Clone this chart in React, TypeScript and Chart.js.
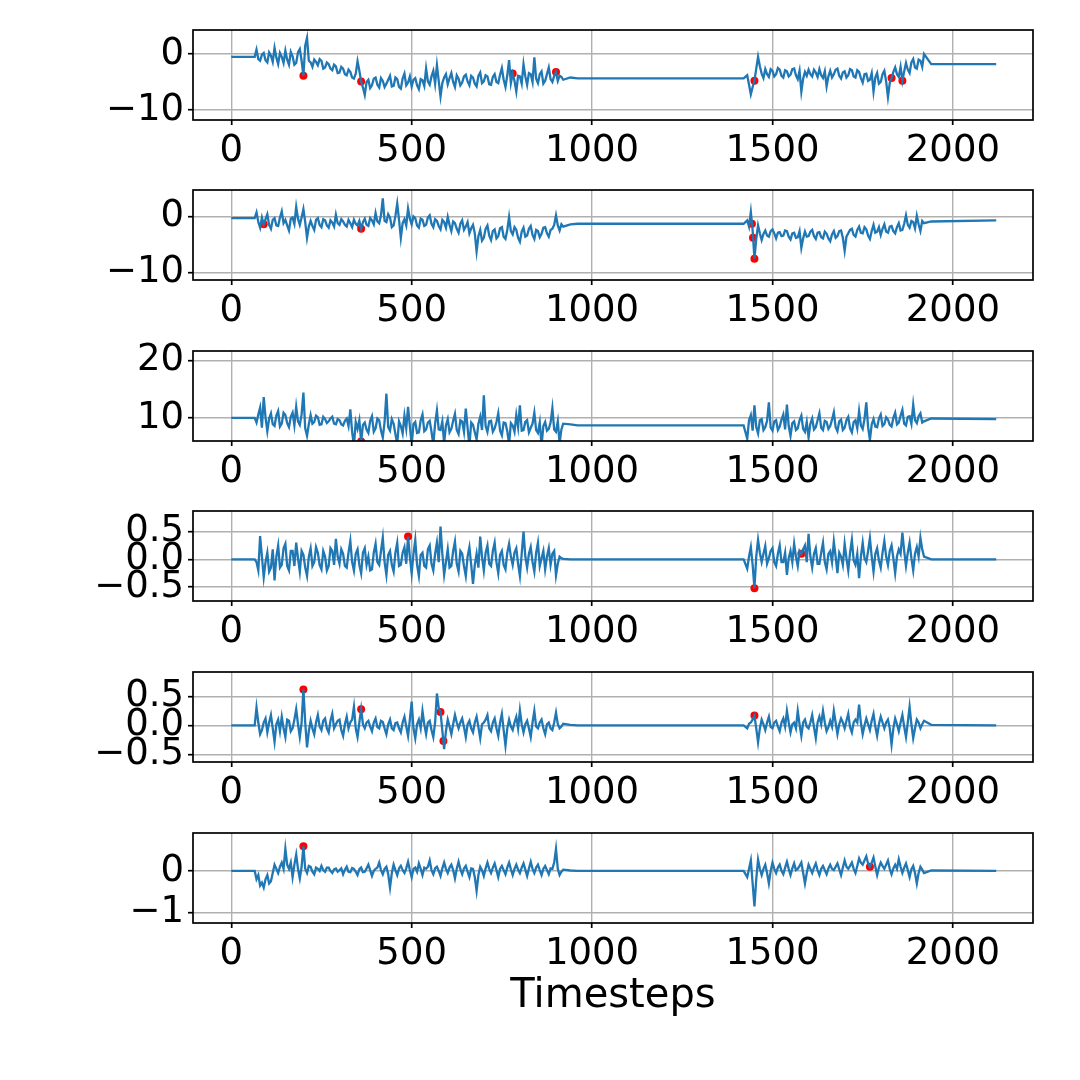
import React, { useEffect, useRef } from "react";
import { Chart, registerables } from "chart.js";

Chart.register(...registerables);

const TIMESTEPS = [
  0, 65,
  70, 75, 80, 85, 90, 95, 100, 105, 110, 115, 120, 125, 130, 135, 140, 145, 150, 155, 160, 165,
  170, 175, 180, 185, 190, 195, 200, 205, 210, 215, 220, 225, 230, 235, 240, 245, 250, 255, 260, 265,
  270, 275, 280, 285, 290, 295, 300, 305, 310, 315, 320, 325, 330, 335, 340, 345, 350, 355, 360, 365,
  370, 375, 380, 385, 390, 395, 400, 405, 410, 415, 420, 425, 430, 435, 440, 445, 450, 455, 460, 465,
  470, 475, 480, 485, 490, 495, 500, 505, 510, 515, 520, 525, 530, 535, 540, 545, 550, 555, 560, 565,
  570, 575, 580, 585, 590, 595, 600, 605, 610, 615, 620, 625, 630, 635, 640, 645, 650, 655, 660, 665,
  670, 675, 680, 685, 690, 695, 700, 705, 710, 715, 720, 725, 730, 735, 740, 745, 750, 755, 760, 765,
  770, 775, 780, 785, 790, 795, 800, 805, 810, 815, 820, 825, 830, 835, 840, 845, 850, 855, 860, 865,
  870, 875, 880, 885, 890, 895, 900, 905, 910, 915, 920,
  940, 960,
  1420,
  1430, 1435, 1440, 1445, 1450, 1455, 1460, 1465, 1470, 1475, 1480, 1485, 1490, 1495, 1500, 1505, 1510, 1515, 1520, 1525,
  1530, 1535, 1540, 1545, 1550, 1555, 1560, 1565, 1570, 1575, 1580, 1585, 1590, 1595, 1600, 1605, 1610, 1615, 1620, 1625,
  1630, 1635, 1640, 1645, 1650, 1655, 1660, 1665, 1670, 1675, 1680, 1685, 1690, 1695, 1700, 1705, 1710, 1715, 1720, 1725,
  1730, 1735, 1740, 1745, 1750, 1755, 1760, 1765, 1770, 1775, 1780, 1785, 1790, 1795, 1800, 1805, 1810, 1815, 1820, 1825,
  1830, 1835, 1840, 1845, 1850, 1855, 1860, 1865, 1870, 1875, 1880, 1885, 1890, 1895, 1900, 1905, 1910, 1915, 1920,
  1940, 2120,
];

const SERIES_1 = [
  -0.5, -0.5,
  0.8, -0.9, -1.2, -0.1, 0.2, -1.1, -1.5, 0.3, -0.3, -1.4, 1.1, -0.6, -1.8, 0.2, -0.5, -1.6, 0.6, -1.0, -1.9, 0.4,
  -0.4, -1.9, -1.6, 0.3, 0.9, -1.2, -3.9, 1.5, 2.9, -1.2, -1.5, -2.3, -1.0, -1.4, -2.0, -0.9, -1.2, -2.6, -2.4, -1.5,
  -1.8, -2.6, -2.9, -1.9, -2.2, -3.4, -3.3, -2.3, -2.6, -3.6, -3.8, -2.8, -3.2, -4.2, -4.4, -3.5, -1.3, -3.0, -4.9, -6.0,
  -7.3, -5.0, -4.6, -6.1, -5.6, -4.4, -4.2, -5.5, -6.0, -4.3, -4.8, -5.9, -5.3, -4.6, -3.9, -5.8, -5.7, -4.2, -4.5, -5.9,
  -6.2, -4.4, -3.5, -5.6, -5.1, -4.0, -5.8, -4.6, -4.3, -5.6, -6.3, -4.5, -4.7, -5.7, -2.6, -4.9, -5.5, -4.0, -3.0, -5.3,
  -2.0, -4.8, -7.6, -5.2, -4.2, -3.6, -5.4, -4.3, -3.4, -5.0, -5.9, -3.8, -4.4, -5.6, -5.1, -4.0, -3.7, -4.9, -5.6, -3.9,
  -4.2, -5.3, -5.8, -3.9, -3.3, -5.2, -4.9, -3.8, -4.0, -5.4, -5.5, -4.1, -3.6, -5.0, -5.2, -3.7, -2.5, -4.6, -5.9, -3.8,
  -1.1, -5.2, -3.5, -4.8, -6.7, -3.9, -4.0, -5.3, -1.8, -4.0, -5.5, -3.4, -3.6, -5.0, -0.6, -4.4, -5.2, -3.6, -3.1, -5.3,
  -4.8, -3.6, -2.4, -4.5, -5.0, -3.9, -3.2, -4.8, -3.9, -4.1, -4.6,
  -4.2, -4.35,
  -4.35,
  -3.8, -5.5, -7.2, -5.9, -4.8, -2.6, -0.5, -2.2, -3.5, -4.3, -2.7, -3.6, -4.1, -2.7, -3.0, -4.0, -3.6, -2.5, -2.8, -3.9,
  -4.2, -2.9, -3.1, -4.0, -3.7, -2.7, -2.6, -3.8, -4.5, -3.0, -6.7, -4.4, -3.2, -3.9, -2.8, -3.6, -4.0, -2.8, -3.3, -4.1,
  -2.7, -3.8, -4.3, -3.1, -5.8, -4.0, -3.0, -4.2, -3.6, -2.8, -2.6, -3.9, -4.4, -3.3, -3.1, -4.2, -3.8, -2.7, -2.9, -4.0,
  -4.2, -2.9, -3.2, -4.3, -5.1, -3.6, -3.5, -4.8, -4.6, -3.4, -6.7, -4.2, -3.4, -5.3, -5.0, -3.6, -3.0, -4.9, -7.7, -5.2,
  -4.3, -3.2, -2.4, -3.6, -4.1, -2.3, -4.8, -3.1, -1.6, -2.8, -3.4, -1.5, -0.9, -2.4, -2.6, -1.0, -1.2, -2.3, 0.0,
  -1.8, -1.8,
];

const SERIES_2 = [
  -0.3, -0.3,
  0.7, -1.0, -2.0, -0.2, -1.4, -0.5, 0.4, -1.5, -2.2, -0.6, -0.3, -1.6, -1.7, -0.2, 0.9, -1.2, -0.6, -1.6, -2.5, -0.4,
  -0.2, -1.3, 1.7, -0.4, -1.5, -0.2, 1.3, -1.0, -3.8, -1.8, -0.8, -1.7, -2.4, -0.6, -0.3, -1.5, -1.9, -0.5, -0.7, -1.6,
  -2.0, -0.7, -1.1, -1.8, 0.3, -1.2, -1.5, -0.5, -0.9, -1.5, -1.8, -0.6, -1.2, -1.9, -0.6, -1.3, -1.6, -0.8, -2.2, -1.0,
  -0.4, -1.5, -1.7, -0.3, -0.7, -1.4, 0.6, -0.9, -1.2, 0.2, 3.2, -0.8, -1.0, 0.4, -0.2, -1.9, -1.6, 0.1, 2.3, -0.6,
  -3.8, -1.2, -0.5, -1.6, 1.4, -0.4, -1.4, 0.0, -0.3, -1.6, -2.0, -0.4, -0.6, -1.7, -1.5, -0.2, 0.2, -1.3, -1.9, -0.5,
  -0.8, -1.7, -2.3, -0.6, -1.0, -2.0, -0.1, -1.5, -2.6, -0.9, -1.2, -2.2, -2.9, -1.3, -0.7, -2.4, -1.8, -1.0, -3.0, -2.1,
  -1.5, -3.0, -6.2, -3.5, -2.4, -4.3, -3.8, -2.2, -1.6, -3.4, -4.2, -2.6, -2.3, -3.9, -3.5, -2.1, -1.9, -3.6, -4.0, -2.4,
  -0.1, -2.6, -3.2, -1.9, -2.4, -3.8, -4.5, -2.7, -2.0, -3.6, -3.4, -2.2, -1.7, -3.3, -4.0, -2.4, -2.6, -3.7, -3.1, -2.0,
  -1.9, -3.0, -3.6, -2.4, -2.2, -1.5, 0.2, -1.6, -2.5, -1.4, -1.8,
  -1.4, -1.3,
  -1.3,
  -0.7, -1.8, 0.8, -2.5, -7.5, -4.0, -1.6, -3.0, -4.2, -3.1, -2.5, -3.4, -3.6, -2.6, -2.3, -3.0, -3.9, -2.9, -2.8, -3.5,
  -3.4, -2.5, -2.6, -3.6, -4.1, -3.0, -2.9, -3.8, -3.7, -2.6, -5.6, -3.9, -2.7, -3.6, -3.5, -2.7, -2.4, -3.5, -4.0, -2.9,
  -2.8, -3.7, -3.9, -2.7, -3.1, -3.9, -4.4, -3.2, -2.6, -3.8, -3.5, -2.6, -2.5, -3.8, -6.1, -3.6, -3.0, -2.4, -2.2, -3.3,
  -3.6, -2.4, -1.8, -2.9, -3.0, -1.9, -2.3, -3.4, -4.0, -2.6, -1.5, -2.9, -2.7, -1.9, -3.3, -2.2, -1.4, -2.7, -2.9, -1.8,
  -1.7, -2.6, -3.0, -1.9, -1.2, -2.5, -2.4, -1.3, 0.2, -1.5, -2.0, -0.8, -1.0, -2.1, 0.1, -1.4, -2.6, -0.8, -1.2,
  -0.9, -0.7,
];

const SERIES_3 = [
  10.0, 10.0,
  9.2, 10.6, 11.8, 8.3, 13.6, 10.1, 7.7, 9.9, 10.8, 8.9, 8.6, 10.4, 11.2, 8.5, 9.0, 10.9, 10.5, 9.1, 8.4, 10.2,
  10.9, 8.7, 11.9, 9.4, 8.8, 10.6, 14.4, 8.2, 6.9, 8.9, 10.5, 9.0, 9.3, 10.4, 10.1, 8.8, 8.9, 10.2, 9.8, 9.1,
  9.4, 9.9, 10.2, 9.0, 8.9, 9.8, 9.6, 8.9, 8.7, 9.5, 9.9, 8.6, 11.5, 7.6, 5.2, 9.3, 8.1, 9.6, 5.9, 8.8,
  9.2, 8.0, 7.4, 9.5, 10.3, 7.6, 8.2, 9.9, 9.6, 7.8, 6.6, 9.3, 14.2, 8.4, 7.8, 9.8, 9.0, 7.2, 5.5, 9.4,
  8.6, 7.3, 10.4, 8.2, 11.9, 8.6, 5.3, 8.9, 9.3, 7.4, 7.5, 9.6, 10.6, 7.7, 8.0, 9.2, 9.5, 7.6, 5.4, 9.0,
  11.3, 8.0, 7.9, 9.4, 5.6, 8.7, 9.8, 7.5, 8.1, 9.5, 10.7, 7.9, 7.2, 9.6, 9.4, 7.6, 11.6, 8.3, 5.1, 9.2,
  8.8, 7.5, 6.3, 9.0, 10.2, 7.9, 13.9, 8.6, 7.6, 9.4, 9.5, 7.6, 8.2, 9.3, 10.8, 7.8, 7.0, 9.2, 9.1, 7.7,
  5.5, 9.1, 8.7, 7.6, 10.5, 8.4, 12.2, 7.8, 7.9, 9.3, 9.6, 7.5, 8.3, 9.0, 10.9, 7.9, 7.4, 9.2, 5.2, 8.6,
  9.3, 7.8, 8.1, 9.2, 11.7, 8.0, 7.6, 9.4, 5.6, 8.0, 9.0,
  8.9, 8.7,
  8.7,
  6.4, 9.6, 10.5, 7.8, 12.2, 8.4, 7.3, 9.6, 9.8, 7.9, 8.4, 9.5, 12.7, 8.3, 7.8, 9.4, 9.6, 7.9, 8.5, 9.7,
  10.6, 8.0, 12.3, 8.6, 6.9, 9.1, 9.4, 7.9, 8.2, 9.6, 10.4, 8.1, 7.6, 9.3, 6.6, 9.0, 9.9, 8.0, 8.4, 9.6,
  10.8, 8.3, 7.9, 9.5, 9.3, 8.1, 8.6, 9.7, 11.0, 8.4, 7.7, 9.4, 9.7, 7.9, 8.3, 9.6, 10.2, 8.2, 7.5, 9.3,
  9.6, 8.2, 11.2, 8.7, 8.1, 9.8, 12.7, 8.4, 6.2, 8.9, 9.8, 8.5, 8.4, 9.9, 10.6, 8.6, 8.9, 10.1, 9.7, 8.8,
  8.5, 10.0, 10.9, 8.9, 9.2, 10.4, 11.4, 9.0, 8.7, 10.2, 10.3, 9.0, 12.3, 9.6, 9.1, 10.3, 10.8, 9.2, 9.4,
  9.9, 9.8,
];

const SERIES_4 = [
  0, 0,
  -0.05, -0.2, 0.42, 0.05, -0.32, -0.05, 0.12, -0.22, -0.15, 0.18, -0.38, 0.05, 0.25, -0.15, -0.1, 0.2, 0.28, -0.12, -0.2, 0.15,
  0.15, -0.12, 0.3, 0.02, -0.22, 0.15, 0.08, -0.15, -0.3, 0.05, 0.2, -0.12, -0.05, 0.22, 0.12, -0.1, -0.18, 0.15, 0.05, -0.2,
  -0.12, 0.2, 0.15, -0.1, 0.37, 0.05, -0.08, 0.18, 0.1, -0.12, -0.15, 0.12, 0.33, -0.05, -0.2, 0.1, 0.18, -0.1, -0.25, 0.12,
  0.2, -0.1, 0.05, -0.2, -0.18, 0.12, 0.28, -0.05, -0.1, 0.15, 0.39, -0.05, -0.28, 0.08, 0.15, -0.1, -0.22, 0.12, 0.3, -0.12,
  -0.1, 0.12, 0.22, -0.08, 0.41, 0.05, -0.25, 0.1, 0.35, -0.1, -0.3, 0.08, 0.12, -0.12, -0.15, 0.18, 0.25, -0.08, -0.2, 0.1,
  0.3, -0.05, 0.59, 0.1, -0.28, -0.05, 0.18, -0.15, -0.12, 0.15, 0.32, -0.08, -0.22, 0.15, 0.1, -0.12, -0.3, 0.05, 0.22, -0.1,
  -0.44, -0.1, 0.1, -0.15, 0.41, 0.05, -0.2, 0.12, 0.25, -0.08, -0.12, 0.15, 0.3, -0.05, -0.25, 0.08, 0.15, -0.1, -0.18, 0.12,
  0.28, 0.05, -0.1, 0.12, 0.2, -0.08, -0.3, 0.1, 0.5, 0.05, -0.15, 0.1, 0.22, -0.05, -0.22, 0.12, 0.3, -0.12, 0.02, 0.15,
  -0.18, 0.05, 0.2, -0.1, 0.1, 0.15, -0.29, -0.08, 0.05, 0.02, 0.01,
  0, 0,
  0,
  -0.17, 0.05, 0.22, -0.1, -0.52, 0.05, 0.35, 0.12, -0.05, 0.1, 0.24, -0.08, 0.02, 0.15, 0.2, -0.05, -0.12, 0.1, 0.25, -0.05,
  -0.05, 0.12, -0.28, 0.02, 0.15, -0.05, 0.28, 0.05, -0.12, 0.15, 0.1, 0.18, 0.25, -0.05, 0.46, 0.05, -0.15, 0.1, 0.2, -0.08,
  -0.08, 0.12, 0.3, -0.05, -0.18, 0.1, 0.15, -0.05, 0.32, 0.05, -0.25, 0.12, 0.05, -0.1, 0.28, 0.02, -0.2, 0.12, 0.35, -0.02,
  -0.1, 0.1, -0.34, 0.05, 0.3, 0.02, -0.05, 0.15, 0.38, 0.05, -0.22, 0.1, 0.2, -0.02, -0.15, 0.12, 0.33, 0.05, -0.1, 0.15,
  0.25, 0.02, -0.25, 0.05, 0.18, 0.1, 0.48, 0.15, -0.12, 0.12, 0.3, 0.02, -0.2, 0.1, 0.22, 0.05, 0.39, 0.18, 0.05,
  0, 0,
];

const SERIES_5 = [
  0, 0,
  0.31, 0.05, -0.15, -0.08, 0.05, 0.12, -0.12, 0.05, 0.18, -0.05, -0.28, 0.02, 0.1, -0.1, 0.15, -0.05, -0.2, 0.1, 0.08, -0.1,
  -0.05, 0.1, 0.28, 0.02, -0.2, 0.05, 0.62, 0.05, -0.38, -0.1, 0.08, -0.05, -0.15, 0.05, 0.18, -0.02, -0.08, 0.08, 0.12, -0.05,
  -0.12, 0.08, 0.2, -0.05, 0.02, 0.08, 0.1, -0.08, -0.18, 0.02, 0.15, -0.05, 0.05, 0.1, 0.32, -0.05, -0.2, 0.05, 0.28, 0.02,
  -0.05, 0.05, 0.08, -0.02, -0.1, 0.05, 0.12, -0.03, -0.05, 0.08, 0.06, -0.05, -0.15, 0.02, 0.1, -0.05, -0.08, 0.04, 0.05, -0.05,
  -0.12, 0.05, 0.15, -0.02, -0.18, 0.1, 0.41, -0.05, -0.22, 0.02, 0.1, -0.05, 0.25, 0.02, -0.15, 0.05, 0.08, -0.08, -0.2, 0.05,
  0.55, 0.3, 0.23, -0.09, -0.41, -0.1, 0.1, -0.02, -0.15, 0.02, 0.18, 0.05, -0.05, 0.05, 0.12, -0.03, -0.2, 0.02, 0.08, -0.05,
  -0.12, 0.05, 0.15, -0.03, -0.22, 0.02, 0.05, 0.1, 0.18, -0.05, -0.1, 0.05, 0.12, -0.05, -0.18, 0.05, 0.2, -0.08, -0.35, -0.05,
  0.1, -0.02, -0.08, 0.05, 0.15, -0.05, 0.26, 0.02, -0.12, 0.02, 0.08, -0.05, -0.2, 0.05, 0.25, -0.02, -0.05, 0.05, 0.1, -0.05,
  -0.15, 0.02, 0.05, -0.05, -0.08, 0.05, 0.22, 0.02, -0.05, -0.02, 0.03,
  0.01, 0,
  0,
  -0.05, 0.03, 0.05, 0.1, 0.17, -0.05, -0.29, -0.05, 0.1, 0.02, -0.08, 0.05, 0.15, -0.03, -0.05, 0.05, 0.08, -0.02, -0.1, 0.05,
  0.12, -0.02, 0.25, 0.05, -0.12, 0.02, 0.05, -0.05, 0.25, 0.02, -0.18, 0.05, 0.1, -0.02, -0.05, 0.05, 0.18, -0.03, -0.22, 0.05,
  0.15, 0.02, 0.25, 0.05, -0.1, -0.03, 0.08, -0.02, 0.25, 0.05, -0.15, 0.02, 0.12, 0.05, -0.05, 0.08, 0.2, -0.03, -0.12, 0.05,
  0.1, 0.05, 0.36, 0.05, -0.15, 0.0, 0.12, 0.02, -0.08, 0.08, 0.2, -0.02, -0.18, 0.02, 0.15, 0.05, -0.05, 0.05, 0.1, -0.05,
  -0.33, -0.05, 0.12, 0.02, -0.1, 0.05, 0.18, -0.02, -0.2, 0.05, 0.32, 0.02, -0.22, -0.05, 0.1, 0.05, -0.05, 0.02, 0.08,
  0.01, 0,
];

const SERIES_6 = [
  0, 0,
  -0.2, -0.1, -0.35, -0.28, -0.4, -0.2, -0.1, -0.3, -0.25, -0.05, 0.15, 0.05, -0.05, 0.1, 0.2, 0.05, 0.53, 0.15, 0.05, 0.2,
  -0.15, 0.15, 0.39, 0.05, -0.18, 0.1, 0.59, 0.05, -0.05, 0.12, 0.1, -0.02, -0.08, 0.08, 0.05, 0.0, 0.12, 0.02, -0.02, 0.08,
  0.08, 0.0, -0.05, 0.04, 0.06, -0.02, 0.02, 0.06, -0.08, 0.03, 0.1, -0.02, -0.03, 0.07, 0.05, -0.02, -0.1, 0.04, 0.08, -0.03,
  -0.02, 0.06, 0.15, 0.02, -0.12, 0.0, 0.05, 0.08, 0.2, 0.02, -0.08, 0.05, 0.1, -0.08, -0.4, -0.05, 0.15, 0.02, -0.1, 0.06,
  0.12, 0.02, -0.05, 0.06, 0.22, 0.02, -0.15, 0.05, 0.08, -0.02, 0.18, 0.05, -0.1, 0.08, 0.05, 0.1, 0.25, 0.02, -0.08, 0.06,
  0.1, 0.0, -0.12, 0.06, 0.2, 0.05, -0.05, 0.08, 0.15, 0.02, -0.18, 0.05, 0.22, 0.04, -0.08, 0.06, 0.12, -0.02, -0.15, 0.06,
  0.05, -0.15, -0.48, -0.1, 0.1, 0.02, -0.12, 0.06, 0.2, 0.05, -0.05, 0.08, 0.18, 0.02, -0.15, 0.05, 0.12, 0.02, -0.08, 0.08,
  0.2, 0.04, -0.1, 0.05, 0.15, 0.03, -0.05, 0.08, 0.18, 0.03, -0.12, 0.06, 0.22, 0.05, -0.05, 0.08, 0.15, 0.02, -0.1, 0.05,
  0.12, 0.02, -0.08, 0.06, 0.05, 0.2, 0.53, 0.05, -0.1, -0.02, 0.03,
  0.01, 0,
  0,
  -0.15, 0.05, 0.25, -0.3, -0.85, -0.2, 0.27, 0.05, -0.1, 0.05, 0.15, -0.05, -0.3, 0.0, 0.2, 0.05, -0.05, 0.08, 0.15, 0.0,
  -0.08, 0.08, 0.22, 0.05, -0.1, 0.06, 0.18, 0.02, 0.05, 0.12, 0.2, -0.05, -0.3, -0.05, 0.15, 0.05, -0.05, 0.08, 0.18, 0.02,
  -0.1, 0.05, 0.12, 0.02, -0.08, 0.06, 0.15, 0.05, 0.02, 0.1, 0.18, 0.04, -0.1, 0.08, 0.25, 0.1, 0.05, 0.12, 0.2, 0.05,
  -0.05, 0.12, 0.3, 0.2, 0.15, 0.25, 0.35, 0.18, 0.1, 0.2, 0.32, 0.1, -0.1, 0.08, 0.2, 0.12, 0.05, 0.15, 0.25, 0.05,
  -0.08, 0.06, 0.15, 0.05, 0.28, 0.1, -0.05, 0.08, 0.18, 0.02, -0.15, 0.04, 0.12, -0.05, -0.3, -0.05, 0.1, 0.03, -0.05,
  0.01, 0,
];

// Anomaly markers (red points)
const ANOM_X_1 = [200, 360, 780, 900, 1450, 1830, 1860];
const ANOM_Y_1 = [-3.9, -4.9, -3.5, -3.2, -4.8, -4.3, -4.8];
const ANOM_X_2 = [90, 360, 1443, 1446, 1450];
const ANOM_Y_2 = [-1.4, -2.2, -1.3, -3.8, -7.5];
const ANOM_X_3 = [360];
const ANOM_Y_3 = [5.9];
const ANOM_X_4 = [490, 1450, 1580];
const ANOM_Y_4 = [0.41, -0.52, 0.1];
const ANOM_X_5 = [200, 360, 580, 588, 1450];
const ANOM_Y_5 = [0.62, 0.28, 0.23, -0.27, 0.17];
const ANOM_X_6 = [200, 1770];
const ANOM_Y_6 = [0.59, 0.1];

// Tick labels
const X_TICKS = [0, 500, 1000, 1500, 2000];
const Y_TICKS_1 = [-10, 0];
const Y_TICKS_2 = [-10, 0];
const Y_TICKS_3 = [10, 20];
const Y_TICKS_4 = [-0.5, 0, 0.5];
const Y_TICKS_5 = [-0.5, 0, 0.5];
const Y_TICKS_6 = [-1, 0];

// Axis limits
const X_LIMITS = [-106, 2222];
const Y_LIMITS = [
  [-11.8, 4.3],
  [-11.3, 4.7],
  [6.0, 21.6],
  [-0.75, 0.87],
  [-0.63, 0.92],
  [-1.25, 0.91],
];
const Y_DECIMALS = [0, 0, 0, 1, 1, 0];
const X_TITLE = "Timesteps";

const PANELS = [
  { series: SERIES_1, ax: ANOM_X_1, ay: ANOM_Y_1, ticks: Y_TICKS_1 },
  { series: SERIES_2, ax: ANOM_X_2, ay: ANOM_Y_2, ticks: Y_TICKS_2 },
  { series: SERIES_3, ax: ANOM_X_3, ay: ANOM_Y_3, ticks: Y_TICKS_3 },
  { series: SERIES_4, ax: ANOM_X_4, ay: ANOM_Y_4, ticks: Y_TICKS_4 },
  { series: SERIES_5, ax: ANOM_X_5, ay: ANOM_Y_5, ticks: Y_TICKS_5 },
  { series: SERIES_6, ax: ANOM_X_6, ay: ANOM_Y_6, ticks: Y_TICKS_6 },
];

// Layout
const W = 1080;
const PLOT_TOPS = [30, 190, 351, 511, 672, 833];
const PLOT_H = 90;
const PAD_TOP = 10;
const PLOT_LEFT = 193;
const PLOT_RIGHT = 1033;
const X_AXIS_H = 70;
const X_AXIS_H_LAST = 98;
const TICK_FONT = { family: "DejaVu Sans", size: 37 };
const TITLE_FONT = { family: "DejaVu Sans", size: 40 };

const fmt = (v: number, d: number) =>
  (v < -1e-9 ? "\u2212" : "") + Math.abs(v).toFixed(d);

const framePlugin = {
  id: "frame",
  afterDraw(chart: any) {
    const { ctx, chartArea } = chart;
    ctx.save();
    ctx.strokeStyle = "#000";
    ctx.lineWidth = 1.7;
    ctx.strokeRect(
      chartArea.left,
      chartArea.top,
      chartArea.right - chartArea.left,
      chartArea.bottom - chartArea.top
    );
    ctx.restore();
  },
};

function Panel({ idx }: { idx: number }) {
  const ref = useRef<HTMLCanvasElement>(null);
  const last = idx === PANELS.length - 1;
  const xh = last ? X_AXIS_H_LAST : X_AXIS_H;
  const H = PAD_TOP + PLOT_H + xh;

  useEffect(() => {
    const p = PANELS[idx];
    const dec = Y_DECIMALS[idx];
    const chart = new Chart(ref.current as HTMLCanvasElement, {
      type: "line",
      data: {
        datasets: [
          {
            type: "line",
            data: TIMESTEPS.map((t, i) => ({ x: t, y: p.series[i] })),
            borderColor: "#1f77b4",
            backgroundColor: "#1f77b4",
            borderWidth: 2.3,
            pointRadius: 0,
            tension: 0,
            fill: false,
            order: 1,
          },
          {
            type: "scatter",
            data: p.ax.map((t, i) => ({ x: t, y: p.ay[i] })),
            backgroundColor: "#ff0000",
            borderColor: "#ff0000",
            borderWidth: 0,
            pointRadius: 4,
            order: 2,
          },
        ] as any,
      },
      options: {
        animation: false,
        responsive: false,
        maintainAspectRatio: false,
        devicePixelRatio: 1,
        events: [],
        layout: {
          padding: { top: PAD_TOP, left: 0, right: W - PLOT_RIGHT, bottom: 0 },
        },
        plugins: {
          legend: { display: false },
          tooltip: { enabled: false },
        },
        scales: {
          x: {
            type: "linear",
            min: X_LIMITS[0],
            max: X_LIMITS[1],
            afterBuildTicks: (s: any) => {
              s.ticks = X_TICKS.map((v) => ({ value: v }));
            },
            afterFit: (s: any) => {
              s.height = xh;
              s.paddingLeft = 0;
              s.paddingRight = 0;
            },
            border: { display: false },
            grid: {
              color: "#b0b0b0",
              lineWidth: 1.4,
              tickColor: "#000",
              tickWidth: 1.7,
              tickLength: 5,
              drawTicks: true,
            },
            ticks: {
              font: TICK_FONT,
              color: "#000",
              padding: 4,
              maxRotation: 0,
              autoSkip: false,
              callback: (v: any) => String(v),
            },
            title: {
              display: last,
              text: X_TITLE,
              font: TITLE_FONT,
              color: "#000",
              padding: { top: 0, bottom: 0 },
            },
          },
          y: {
            type: "linear",
            min: Y_LIMITS[idx][0],
            max: Y_LIMITS[idx][1],
            afterBuildTicks: (s: any) => {
              s.ticks = p.ticks.map((v) => ({ value: v }));
            },
            afterFit: (s: any) => {
              s.width = PLOT_LEFT;
              s.paddingTop = 0;
              s.paddingBottom = 0;
            },
            border: { display: false },
            grid: {
              color: "#b0b0b0",
              lineWidth: 1.4,
              tickColor: "#000",
              tickWidth: 1.7,
              tickLength: 5,
              drawTicks: true,
            },
            ticks: {
              font: TICK_FONT,
              color: "#000",
              padding: 4,
              autoSkip: false,
              callback: (v: any) => fmt(Number(v), dec),
            },
          },
        },
      } as any,
      plugins: [framePlugin],
    });
    return () => chart.destroy();
  }, [idx]);

  return (
    <canvas
      ref={ref}
      width={W}
      height={H}
      style={{
        position: "absolute",
        left: 0,
        top: PLOT_TOPS[idx] - PAD_TOP,
        width: W,
        height: H,
      }}
    />
  );
}

export default function App() {
  return (
    <div
      style={{
        position: "fixed",
        left: 0,
        top: 0,
        width: W,
        height: 1080,
        background: "#fff",
        overflow: "hidden",
      }}
    >
      {PANELS.map((_, i) => (
        <Panel key={i} idx={i} />
      ))}
    </div>
  );
}
